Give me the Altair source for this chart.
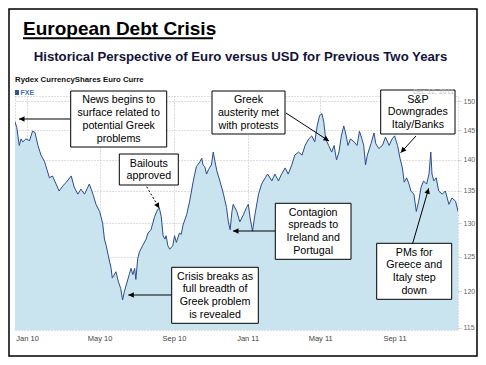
import math
import altair as alt
import pandas as pd

# ---- data ----
dates = [
    "2009-12-12", "2009-12-15", "2009-12-19", "2009-12-22", "2009-12-25", "2009-12-30",
    "2010-01-05", "2010-01-10", "2010-01-14", "2010-01-19", "2010-01-24", "2010-01-30",
    "2010-02-03", "2010-02-07", "2010-02-12", "2010-02-18", "2010-02-23",
    "2010-03-01", "2010-03-07", "2010-03-15", "2010-03-20", "2010-03-26", "2010-03-31",
    "2010-04-06", "2010-04-14", "2010-04-20", "2010-04-25",
    "2010-05-01", "2010-05-06", "2010-05-09", "2010-05-12", "2010-05-14", "2010-05-20", "2010-05-22", "2010-05-28",
    "2010-06-01", "2010-06-05", "2010-06-08", "2010-06-11", "2010-06-14", "2010-06-19", "2010-06-22", "2010-06-25", "2010-06-28", "2010-06-30",
    "2010-07-03", "2010-07-06", "2010-07-11", "2010-07-17", "2010-07-20", "2010-07-25", "2010-07-28", "2010-07-31",
    "2010-08-05", "2010-08-08", "2010-08-11", "2010-08-14", "2010-08-17", "2010-08-19", "2010-08-22", "2010-08-25", "2010-08-30",
    "2010-09-02", "2010-09-05", "2010-09-10", "2010-09-13", "2010-09-16", "2010-09-22", "2010-09-27",
    "2010-10-03", "2010-10-08", "2010-10-14", "2010-10-17", "2010-10-19", "2010-10-22", "2010-10-25", "2010-10-28",
    "2010-11-02", "2010-11-05", "2010-11-08", "2010-11-11", "2010-11-16", "2010-11-22", "2010-11-27", "2010-11-30",
    "2010-12-03", "2010-12-06", "2010-12-08", "2010-12-14", "2010-12-19", "2010-12-25", "2010-12-30",
    "2011-01-02", "2011-01-05", "2011-01-09", "2011-01-13", "2011-01-19", "2011-01-24", "2011-01-30",
    "2011-02-03", "2011-02-10", "2011-02-15", "2011-02-21", "2011-02-26",
    "2011-03-04", "2011-03-09", "2011-03-15", "2011-03-20", "2011-03-26",
    "2011-04-01", "2011-04-06", "2011-04-12", "2011-04-17", "2011-04-22", "2011-04-26", "2011-04-30",
    "2011-05-04", "2011-05-07", "2011-05-10", "2011-05-15", "2011-05-20", "2011-05-24", "2011-05-28",
    "2011-06-01", "2011-06-05", "2011-06-09", "2011-06-12", "2011-06-16", "2011-06-20", "2011-06-26",
    "2011-07-01", "2011-07-05", "2011-07-09", "2011-07-12", "2011-07-15", "2011-07-18", "2011-07-24", "2011-07-29",
    "2011-08-01", "2011-08-06", "2011-08-12", "2011-08-17", "2011-08-23", "2011-08-28",
    "2011-09-01", "2011-09-06", "2011-09-10", "2011-09-14", "2011-09-17", "2011-09-21", "2011-09-25", "2011-09-28",
    "2011-10-03", "2011-10-07", "2011-10-11", "2011-10-15", "2011-10-19", "2011-10-24", "2011-10-28", "2011-10-31",
    "2011-11-02", "2011-11-05", "2011-11-09", "2011-11-13", "2011-11-19", "2011-11-24", "2011-11-30",
    "2011-12-05", "2011-12-11", "2011-12-15",
]
fxe = [
    146.4, 145.4, 142.4, 143.5, 143.0, 143.5,
    143.2, 144.8, 144.6, 142.4, 140.8, 139.7,
    138.4, 137.1, 137.4, 136.1, 135.0,
    135.8, 136.4, 137.4, 135.6, 134.5, 135.3,
    134.5, 136.1, 134.5, 132.9,
    131.8, 130.0, 127.6, 126.6, 125.7, 123.3, 121.9, 122.8,
    121.4, 120.4, 118.8, 120.0, 120.9, 122.4, 123.3, 122.4, 123.3, 121.7,
    124.7, 125.7, 126.6, 127.6, 128.5, 129.0, 130.0, 131.0,
    132.1, 132.3, 131.0, 128.1, 127.6, 128.1, 126.6, 126.1, 126.6,
    128.1, 127.1, 128.5, 128.3, 129.7, 131.3, 133.4,
    136.6, 138.9, 139.7, 140.3, 139.2, 138.9, 137.7, 138.4,
    139.2, 141.3, 139.7, 138.2, 136.6, 134.5, 132.4, 130.2,
    129.0, 131.8, 132.9, 131.8, 130.2, 131.3, 132.4,
    132.9, 130.8, 128.8, 131.3, 134.5, 136.1, 137.1,
    137.7, 136.6, 137.7, 136.6, 137.7,
    138.7, 137.7, 139.2, 140.8, 141.3,
    140.8, 142.4, 143.5, 144.0, 143.0, 145.7, 147.5,
    147.8, 146.3, 143.5, 142.4, 141.3, 142.4, 140.0,
    141.3, 144.0, 145.7, 144.5, 142.4, 143.5, 143.0,
    142.4, 144.8, 143.5, 142.4, 139.2, 140.8, 142.7, 144.5,
    142.7, 141.9, 142.4, 143.8, 142.4, 143.5,
    144.0, 142.4, 140.3, 138.7, 136.4, 137.1, 136.1, 135.0,
    134.5, 131.8, 133.4, 135.6, 136.6, 136.1, 137.7, 141.3,
    137.7, 136.6, 137.1, 135.0, 134.5, 135.0, 132.9,
    133.9, 133.4, 131.8,
]
y_ticks = [115, 120, 125, 130, 135, 140, 145, 150]
x_tick_dates = [(2010, 1), (2010, 5), (2010, 9), (2011, 1), (2011, 5), (2011, 9)]

title_text = "European Debt Crisis"
subtitle_text = "Historical Perspective of Euro versus USD for Previous Two Years"
source_text = "Rydex CurrencyShares Euro Curre"
series_name = "FXE"
date_stamp = "Dec 12, 2011"

notes = [
    "News begins to\nsurface related to\npotential Greek\nproblems",
    "Greek\nausterity met\nwith protests",
    "S&P\nDowngrades\nItaly/Banks",
    "Bailouts\napproved",
    "Contagion\nspreads to\nIreland and\nPortugal",
    "Crisis breaks as\nfull breadth of\nGreek problem\nis revealed",
    "PMs for\nGreece and\nItaly step\ndown",
]

df = pd.DataFrame({"date": dates, "fxe": fxe})

# ---- layout ----
W, H = 443, 234
FONT = "Liberation Sans, Arial, sans-serif"
NARROW = "Liberation Sans Narrow, Arial Narrow, Liberation Sans, sans-serif"
GRID = "#bdbdbd"
LH = 12.8

x_enc = alt.X(
    "date:T",
    scale=alt.Scale(
        type="utc",
        domain=[alt.DateTime(year=2009, month=12, date=12, utc=True),
                alt.DateTime(year=2011, month=12, date=15, utc=True)],
    ),
    axis=alt.Axis(
        values=[alt.DateTime(year=y, month=m, date=1, utc=True) for y, m in x_tick_dates],
        format="%b %y", title=None, ticks=False, domain=False,
        labelFont=NARROW, labelFontSize=7.5, labelColor="#444", labelPadding=4,
        grid=True, gridColor=GRID, gridDash=[1, 2],
    ),
)
y_enc = alt.Y(
    "fxe:Q",
    stack=None,
    scale=alt.Scale(type="log", domain=[114.7, 150.9], nice=False),
    axis=alt.Axis(
        orient="right", values=y_ticks, title=None, domain=False,
        labelFont=NARROW, labelFontSize=7, labelColor="#666", labelPadding=1,
        tickSize=4, tickColor=GRID, tickDash=[1, 1],
        grid=True, gridColor=GRID, gridDash=[1, 2],
    ),
)

area = alt.Chart(df).mark_area(color="#c9e3ef", opacity=1, clip=True).encode(
    x=x_enc, y=y_enc, y2=alt.value(H)
)
line = alt.Chart(df).mark_line(color="#2b4c8c", strokeWidth=1, clip=True).encode(
    x="date:T", y=alt.Y("fxe:Q", stack=None)
)

one = pd.DataFrame({"k": [0]})


def rect(x0, y0, x1, y1, fill="white", stroke="black", sw=1.0, fill_opacity=1):
    return alt.Chart(one).mark_rect(
        fill=fill, fillOpacity=fill_opacity, stroke=stroke, strokeWidth=sw
    ).encode(x=alt.value(x0), x2=alt.value(x1), y=alt.value(y0), y2=alt.value(y1))


def text(x, y, t, size=10.7, weight="normal", color="black", align="center",
         baseline="middle", font=FONT):
    return alt.Chart(one).mark_text(
        text=t, lineBreak="\n", lineHeight=LH, align=align, baseline=baseline,
        font=font, fontSize=size, fontWeight=weight, color=color,
    ).encode(x=alt.value(x), y=alt.value(y))


def arrow(x0, y0, x1, y1, dash=None):
    kw = dict(color="black", strokeWidth=1)
    if dash:
        kw["strokeDash"] = dash
    r = alt.Chart(one).mark_rule(**kw).encode(
        x=alt.value(x0), y=alt.value(y0), x2=alt.value(x1), y2=alt.value(y1)
    )
    ang = math.degrees(math.atan2(x1 - x0, -(y1 - y0))) % 360
    h = alt.Chart(one).mark_point(
        shape="M0,0L-0.5,1L0.5,1Z", filled=True, color="black", opacity=1,
        strokeWidth=0, size=121, angle=ang,
    ).encode(x=alt.value(x1), y=alt.value(y1))
    return [r, h]


layers = [area, line]

# boxes: (x0, y0, x1, y1), arrow (start -> tip)
boxes = [
    ((55.7, -5, 151.7, 51), (55.7, 23, 4, 23), None),
    ((197, -5, 270, 38), (271, 17, 314, 45), None),
    ((365.7, -6, 440, 38), (401, 40, 385.7, 56.7), None),
    ((104.3, 58, 163.3, 89), (131.7, 90.7, 144.3, 112.3), [2, 2]),
    ((260.3, 107.3, 336, 163.3), (260.3, 135, 218, 135), None),
    ((156.7, 171.3, 243.3, 227.3), (156.7, 199, 113.3, 199), None),
    ((361.7, 147.3, 436.7, 203.3), (397.7, 147.3, 413.7, 92.3), None),
]
for (b, a, dash), note in zip(boxes, notes):
    layers += arrow(*a, dash=dash)
    layers.append(rect(*b))
    n = note.count("\n") + 1
    cy = (b[1] + b[3]) / 2 + 0.5 - (n - 1) * LH / 2
    layers.append(text((b[0] + b[2]) / 2, cy, note))

# titles and header texts
layers.append(text(8, -61.3, title_text, size=19, weight="bold", align="left",
                   baseline="alphabetic"))
layers.append(alt.Chart(one).mark_rule(color="black", strokeWidth=2).encode(
    x=alt.value(8), x2=alt.value(198), y=alt.value(-57.7)))
layers.append(text(225.5, -35.3, subtitle_text, size=13.2, weight="bold",
                   color="#14143a", baseline="alphabetic"))
layers.append(text(0, -14.5, source_text, size=7.8, weight="bold", color="#111",
                   align="left", baseline="alphabetic"))
layers.append(rect(0, -6, 4, -1, fill="#2f5597", stroke="#2f5597", sw=0))
layers.append(text(5.5, -1.2, series_name, size=7, weight="bold", color="#4a6fa5",
                   align="left", baseline="alphabetic"))
layers.append(text(439, -2, date_stamp, size=7, color="#c4c4c4", align="right",
                   baseline="alphabetic"))
# outer frame
layers.append(rect(-6, -87, 462, 260, fill="white", fill_opacity=0,
                   stroke="black", sw=1.5))

chart = alt.layer(*layers).properties(
    width=W, height=H,
    padding={"left": 7, "top": 88, "right": 20, "bottom": 27},
    autosize=alt.AutoSizeParams(type="none"),
    background="white",
).configure_view(stroke=GRID, strokeDash=[1, 2])

chart.save("out.html", embed_options={"renderer": "svg", "actions": False})
